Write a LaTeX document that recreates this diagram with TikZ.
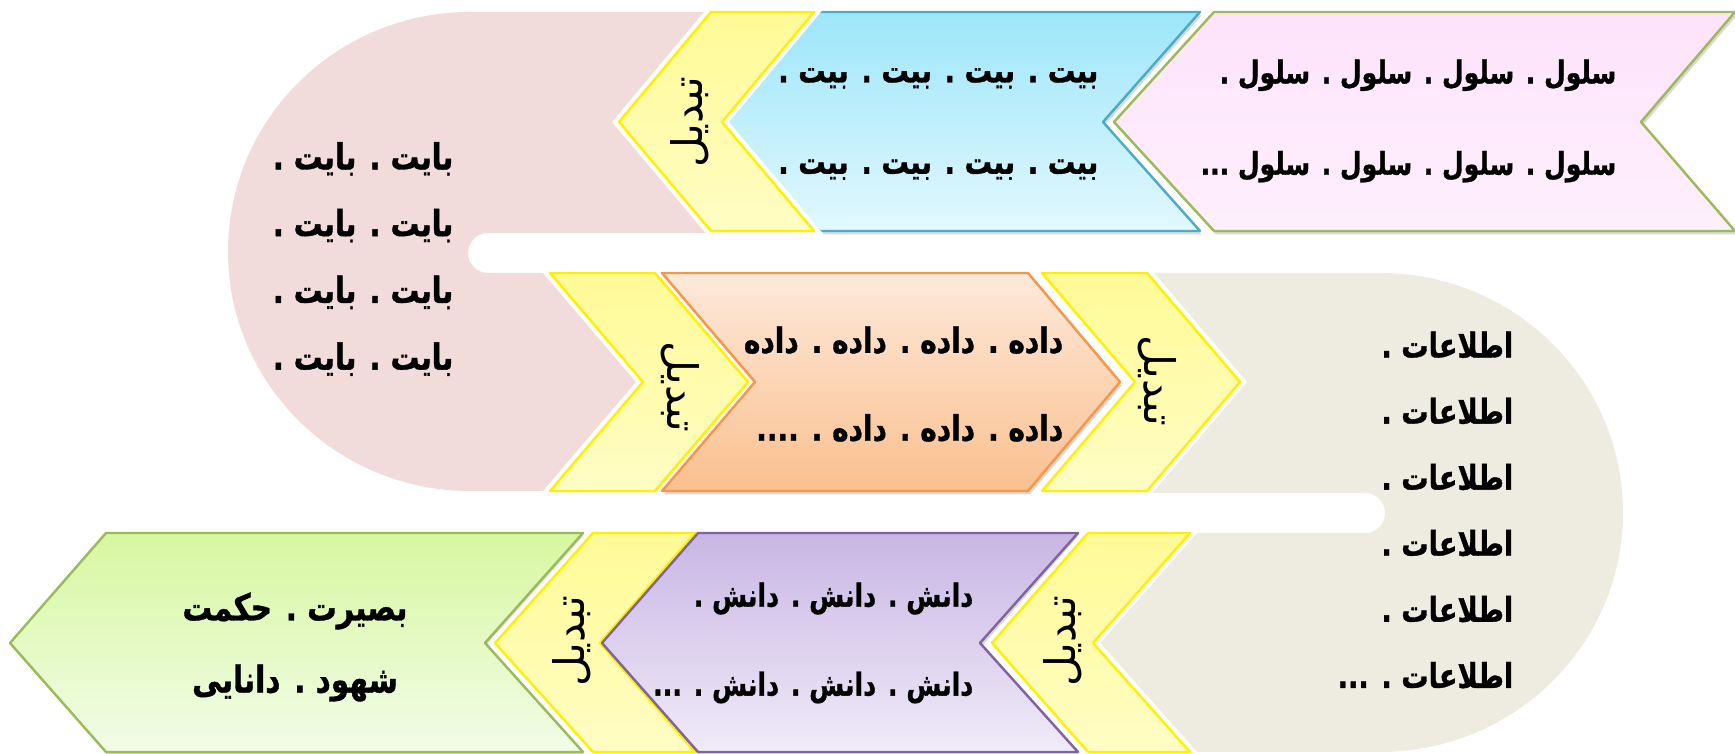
\documentclass[tikz,border=0pt]{standalone}
\usepackage{fontspec}
\newfontfamily\arabicfont[Script=Arabic]{DejaVu Sans}
\newfontfamily\wordfont[Script=Arabic,FakeStretch=0.8,BoldFeatures={FakeBold=1}]{DejaVu Sans}
\TeXXeTstate=1
\usetikzlibrary{shadows}
\definecolor{cellfill}{HTML}{FDE3FB}
\definecolor{cellline}{HTML}{9BBB59}
\definecolor{bittop}{HTML}{9DE6FA}
\definecolor{bitbottom}{HTML}{E2F8FE}
\definecolor{bitline}{HTML}{4BACC6}
\definecolor{bytefill}{HTML}{F2DCDB}
\definecolor{datatop}{HTML}{FDE9DA}
\definecolor{databottom}{HTML}{FAC08F}
\definecolor{dataline}{HTML}{F79646}
\definecolor{infofill}{HTML}{EEECE1}
\definecolor{knowtop}{HTML}{C9B6E4}
\definecolor{knowbottom}{HTML}{F0EBF8}
\definecolor{knowline}{HTML}{8064A2}
\definecolor{wisetop}{HTML}{D7F7A0}
\definecolor{wisebottom}{HTML}{F2FCE8}
\definecolor{changetop}{HTML}{FFFA96}
\definecolor{changebottom}{HTML}{FFFDC4}
\definecolor{changeline}{HTML}{FFF000}

\begin{document}
\begin{tikzpicture}[x=0.1mm,y=-0.1mm,
  band/.style={line width=0.7pt,line join=round,
    drop shadow={opacity=0.3,shadow xshift=0.5pt,shadow yshift=-1pt}},
  changeband/.style={draw=changeline,line width=0.7pt,line join=round,
    top color=changetop,bottom color=changebottom,
    preaction={draw=white,line width=3pt}},
  bandtext/.style 2 args={font=\wordfont\bfseries\fontsize{#1}{#2}\selectfont,
    align=right,inner sep=0pt},
  changetext/.style={font=\arabicfont\fontsize{12pt}{14pt}\selectfont,inner sep=0pt}]
\useasboundingbox (0,0) rectangle (1735,754);
\fill[bytefill] (711,12) -- (470,12) arc[start angle=270,end angle=90,x radius=242,y radius=239.5]
  -- (550,491) -- (643,382) -- (550,273) -- (488,273) arc[start angle=90,end angle=270,radius=20]
  -- (711,233) -- (619,122) -- cycle;
\fill[infofill] (1147,273) -- (1380,273) arc[start angle=270,end angle=450,x radius=243,y radius=239.5]
  -- (1190,752) -- (1093,643) -- (1190,533) -- (1365,533) arc[start angle=90,end angle=-90,radius=20]
  -- (1147,493) -- (1240,382) -- cycle;
\draw[band,draw=cellline,top color=cellfill,bottom color=cellfill!55!white]
  (1214,12) -- (1735,12) -- (1641,122) -- (1735,231) -- (1214,231) -- (1114,122) -- cycle;
\draw[band,draw=bitline,top color=bittop,bottom color=bitbottom]
  (819,12) -- (1200,12) -- (1103,122) -- (1200,231) -- (819,231) -- (725,122) -- cycle;
\draw[changeband] (711,12) -- (814,12) -- (722,122) -- (814,231) -- (711,231) -- (619,122) -- cycle;
\draw[changeband] (550,273) -- (655,273) -- (748,382) -- (655,491) -- (550,491) -- (643,382) -- cycle;
\draw[band,draw=dataline,top color=datatop,bottom color=databottom]
  (662,273) -- (1028,273) -- (1120,382) -- (1028,491) -- (662,491) -- (755,382) -- cycle;
\draw[changeband] (1042,273) -- (1147,273) -- (1240,382) -- (1147,491) -- (1042,491) -- (1135,382) -- cycle;
\draw[band,draw=cellline,top color=wisetop,bottom color=wisebottom]
  (106,533) -- (583,533) -- (485,643) -- (583,752) -- (106,752) -- (10,643) -- cycle;
\draw[changeband] (593,533) -- (695,533) -- (600,643) -- (695,752) -- (593,752) -- (495,643) -- cycle;
\draw[band,draw=knowline,top color=knowtop,bottom color=knowbottom]
  (698,533) -- (1078,533) -- (980,643) -- (1078,752) -- (698,752) -- (602,643) -- cycle;
\draw[changeband] (1088,533) -- (1190,533) -- (1093,643) -- (1190,752) -- (1088,752) -- (992,643) -- cycle;
\node[bandtext={8.9pt}{26pt},anchor=east] (cells) at (1617,121)
  {\beginR سلول . سلول . سلول . سلول .\endR\\\beginR سلول . سلول . سلول . سلول ...\endR};
\node[bandtext={9.75pt}{26pt},anchor=east] (bits) at (1099,124)
  {\beginR بیت . بیت . بیت . بیت .\endR\\\beginR بیت . بیت . بیت . بیت .\endR};
\node[bandtext={10.2pt}{19pt},anchor=east] (bytes) at (454,259)
  {\beginR بایت . بایت .\endR\\\beginR بایت . بایت .\endR\\\beginR بایت . بایت .\endR\\\beginR بایت . بایت .\endR};
\node[bandtext={9.95pt}{25pt},anchor=east] (data) at (1064,384)
  {\beginR داده . داده . داده . داده\endR\\\beginR داده . داده . داده . ....\endR};
\node[bandtext={9.7pt}{18.8pt},anchor=east] (info) at (1514,510)
  {\beginR اطلاعات .\endR\\\beginR اطلاعات .\endR\\\beginR اطلاعات .\endR\\\beginR اطلاعات .\endR\\\beginR اطلاعات .\endR\\\beginR اطلاعات . ...\endR};
\node[bandtext={9pt}{25.3pt},anchor=east] (know) at (974,643)
  {\beginR دانش . دانش . دانش .\endR\\\beginR دانش . دانش . دانش . ...\endR};
\node[bandtext={10.5pt}{20.5pt},align=center] (wise) at (295,647)
  {\beginR بصیرت . حکمت\endR\\\beginR شهود . دانایی\endR};
\node[changetext,rotate=90] (change1) at (690,122) {\beginR تبدیل\endR};
\node[changetext,rotate=-90] (change2) at (680,387) {\beginR تبدیل\endR};
\node[changetext,rotate=-90] (change3) at (1157,381) {\beginR تبدیل\endR};
\node[changetext,rotate=90] (change4) at (572,641) {\beginR تبدیل\endR};
\node[changetext,rotate=90] (change5) at (1063,641) {\beginR تبدیل\endR};
\end{tikzpicture}
\end{document}
